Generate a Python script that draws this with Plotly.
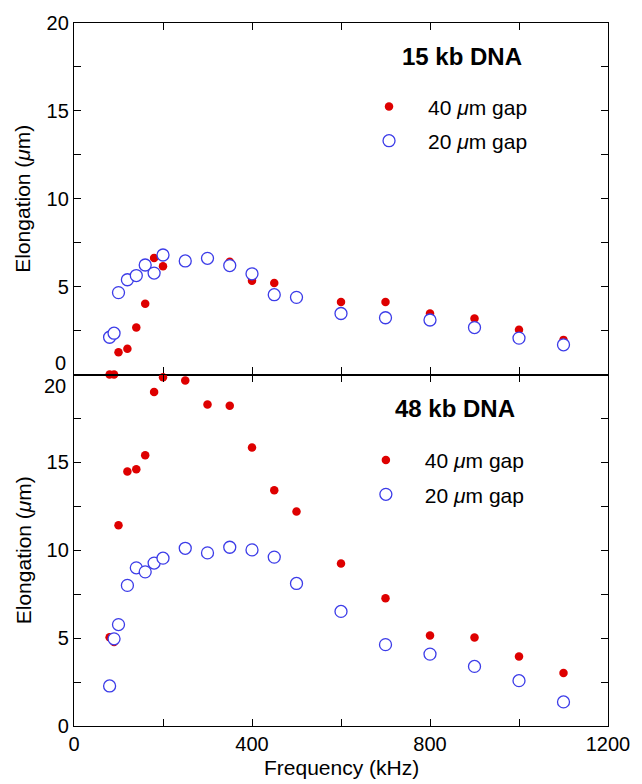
import plotly.graph_objects as go
from plotly.subplots import make_subplots

# Frequencies (kHz)
freq_all = [80, 90, 100, 120, 140, 160, 180, 200, 250, 300, 350, 400, 450, 500,
            600, 700, 800, 900, 1000, 1100]

# 15 kb DNA, 40 um gap
freq_15_40 = [80, 90, 100, 120, 140, 160, 180, 200, 350, 400, 450,
              600, 700, 800, 900, 1000, 1100]
elong_15_40 = [0.0, 0.0, 1.26, 1.46, 2.67, 4.02, 6.63, 6.16, 6.42, 5.33, 5.2,
               4.13, 4.13, 3.47, 3.19, 2.54, 1.97]
# 15 kb DNA, 20 um gap
elong_15_20 = [2.12, 2.35, 4.66, 5.39, 5.63, 6.23, 5.77, 6.8, 6.46, 6.61, 6.2,
               5.73, 4.54, 4.39, 3.47, 3.23, 3.1, 2.67, 2.07, 1.69]

# 48 kb DNA, 40 um gap
elong_48_40 = [5.05, 4.78, 11.42, 14.48, 14.61, 15.41, 19.01, 19.84, 19.66,
               18.29, 18.22, 15.84, 13.42, 12.2, 9.24, 7.27, 5.15, 5.04, 3.96, 3.02]
# 48 kb DNA, 20 um gap
elong_48_20 = [2.28, 4.96, 5.77, 8.0, 9.0, 8.77, 9.27, 9.55, 10.11, 9.85, 10.17,
               10.02, 9.61, 8.11, 6.52, 4.63, 4.09, 3.39, 2.58, 1.37]

y_ticks = [0, 2.5, 5, 7.5, 10, 12.5, 15, 17.5, 20]
x_ticks = [0, 200, 400, 600, 800, 1000, 1200]
x_labels = ["0", "", "400", "", "800", "", "1200"]

FONT = "Liberation Sans, Arial, Helvetica, sans-serif"
RED = "rgb(222,0,0)"
BLUE = "rgb(60,60,232)"

fig = make_subplots(rows=2, cols=1, shared_xaxes=True, vertical_spacing=0)

def add_pair(row, fx, y40, y20, legend):
    fig.add_trace(go.Scatter(
        x=fx, y=y40, mode="markers", name="40 <i>μ</i>m gap",
        marker=dict(color=RED, size=8.5, line=dict(width=0)),
        cliponaxis=False, legend=legend, legendgroup=legend + "a"),
        row=row, col=1)
    fig.add_trace(go.Scatter(
        x=freq_all, y=y20, mode="markers", name="20 <i>μ</i>m gap",
        marker=dict(color="white", size=12, line=dict(color=BLUE, width=1.3)),
        cliponaxis=False, legend=legend, legendgroup=legend + "b"),
        row=row, col=1)

add_pair(1, freq_15_40, elong_15_40, elong_15_20, "legend")
add_pair(2, freq_all, elong_48_40, elong_48_20, "legend2")

axis_common = dict(showline=True, linecolor="black", linewidth=1.3,
                   mirror="ticks", ticks="inside", ticklen=7, tickwidth=1.2,
                   tickcolor="black", showgrid=False, zeroline=False,
                   tickfont=dict(family=FONT, size=20, color="black"))

def y_label(v, skip):
    if v == skip or v % 5:
        return ""
    return str(int(v))

ytext_top = [y_label(v, 0) for v in y_ticks]
ytext_bot = [y_label(v, 20) for v in y_ticks]

fig.update_yaxes(range=[0, 20], tickvals=y_ticks, ticktext=ytext_top,
                 row=1, col=1, **axis_common)
fig.update_yaxes(range=[0, 20], tickvals=y_ticks, ticktext=ytext_bot,
                 row=2, col=1, **axis_common)
fig.update_xaxes(range=[0, 1200], tickvals=x_ticks, ticktext=x_labels,
                 row=1, col=1, showticklabels=False, **axis_common)
fig.update_xaxes(range=[0, 1200], tickvals=x_ticks, ticktext=x_labels,
                 row=2, col=1, **axis_common)

annots = [
    # edge labels offset away from the shared boundary
    dict(x=0, xref="paper", y=0, yref="y", text="0", xanchor="right",
         yanchor="middle", xshift=-6, yshift=12, showarrow=False,
         font=dict(family=FONT, size=20, color="black")),
    dict(x=0, xref="paper", y=20, yref="y2", text="20", xanchor="right",
         yanchor="middle", xshift=-6, yshift=-11, showarrow=False,
         font=dict(family=FONT, size=20, color="black")),
    # panel titles
    dict(x=0.7266, xref="paper", y=0.952, yref="paper", text="<b>15 kb DNA</b>",
         xanchor="center", yanchor="middle", showarrow=False,
         font=dict(family=FONT, size=24, color="black")),
    dict(x=0.7135, xref="paper", y=0.451, yref="paper", text="<b>48 kb DNA</b>",
         xanchor="center", yanchor="middle", showarrow=False,
         font=dict(family=FONT, size=24, color="black")),
    # axis titles
    dict(x=-0.0955, xref="paper", y=0.5, yref="y domain",
         text="Elongation (<i>μ</i>m)", textangle=-90, xanchor="center",
         yanchor="middle", showarrow=False,
         font=dict(family=FONT, size=21, color="black")),
    dict(x=-0.0955, xref="paper", y=0.5, yref="y2 domain",
         text="Elongation (<i>μ</i>m)", textangle=-90, xanchor="center",
         yanchor="middle", showarrow=False,
         font=dict(family=FONT, size=21, color="black")),
    dict(x=0.5, xref="paper", y=-0.059, yref="paper", text="Frequency (kHz)",
         xanchor="center", yanchor="middle", showarrow=False,
         font=dict(family=FONT, size=21, color="black")),
]

legend_style = dict(xanchor="left", yanchor="top", bgcolor="rgba(0,0,0,0)",
                    borderwidth=0, tracegroupgap=4, itemwidth=68,
                    font=dict(family=FONT, size=21, color="black"))

fig.update_layout(
    width=642, height=784,
    margin=dict(l=74, r=34, t=15, b=58),
    paper_bgcolor="white", plot_bgcolor="white",
    showlegend=True,
    legend=dict(x=0.5169, y=0.910, **legend_style),
    legend2=dict(x=0.511, y=0.407, **legend_style),
    annotations=annots,
)

fig.write_html("out.html")
